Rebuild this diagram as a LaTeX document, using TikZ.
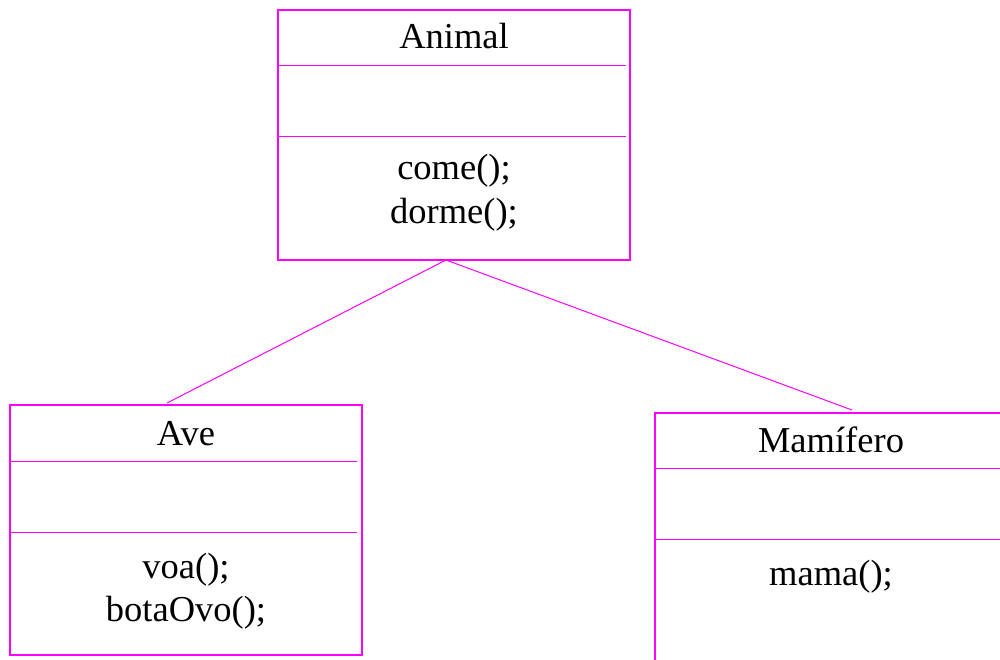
\documentclass[tikz,border=0pt]{standalone}
\usepackage{fontspec}
\setmainfont{Liberation Serif}
\newfontfamily\umlserif{Liberation Serif}
\definecolor{umlmag}{RGB}{255,0,255}
\begin{document}
\begin{tikzpicture}[x=1pt,y=-1pt,
  classbox/.style={draw=umlmag, line width=2pt, rectangle, inner sep=0pt, minimum width=352pt, minimum height=250pt},
  sepline/.style={draw=umlmag, line width=1pt},
  conn/.style={draw=umlmag, line width=1pt},
  lbl/.style={font=\umlserif\fontsize{36.5}{44}\selectfont, inner sep=0pt, anchor=base, align=center}]
\useasboundingbox (0,0) rectangle (1000,659);
% Animal
\node[classbox] (animal) at (454,135) {};
\draw[sepline] (278,65) -- (626,65);
\draw[sepline] (278,136) -- (626,136);
\node[lbl] (animalname) at (454,48) {Animal};
\node[lbl] (animalm1) at (454,179) {come();};
\node[lbl] (animalm2) at (454,223) {dorme();};
% Ave
\node[classbox] (ave) at (186,530) {};
\draw[sepline] (10,461) -- (357,461);
\draw[sepline] (10,532) -- (357,532);
\node[lbl] (avename) at (186,445) {Ave};
\node[lbl] (avem1) at (186,578) {voa();};
\node[lbl] (avem2) at (186,621) {botaOvo();};
% Mamifero
\node[classbox] (mam) at (831,538) {};
\draw[sepline] (655,468) -- (1000,468);
\draw[sepline] (655,539) -- (1000,539);
\node[lbl] (mamname) at (831,452) {Mamífero};
\node[lbl] (mamm1) at (831,585) {mama();};
% connectors
\coordinate (apex) at (446,260);
\coordinate (aveTop) at (167,403);
\coordinate (mamTop) at (852,410);
\draw[conn] (apex) -- (aveTop);
\draw[conn] (apex) -- (mamTop);
\end{tikzpicture}
\end{document}
